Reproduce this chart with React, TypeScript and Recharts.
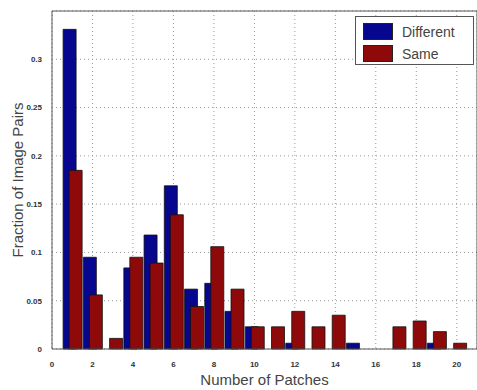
import { BarChart, Bar, XAxis, YAxis, CartesianGrid, ReferenceLine } from 'recharts';

const patches = [1, 2, 3, 4, 5, 6, 7, 8, 9, 10, 11, 12, 13, 14, 15, 16, 17, 18, 19, 20];
const different = [0.331, 0.095, 0, 0.084, 0.118, 0.169, 0.062, 0.068, 0.039, 0.023, 0, 0.006, 0, 0, 0.006, 0, 0, 0, 0.006, 0];
const same = [0.185, 0.056, 0.011, 0.095, 0.089, 0.139, 0.044, 0.106, 0.062, 0.023, 0.023, 0.039, 0.023, 0.035, 0, 0, 0.023, 0.029, 0.018, 0.006];
const xTicks = [0, 2, 4, 6, 8, 10, 12, 14, 16, 18, 20];
const yTicks = [0, 0.05, 0.1, 0.15, 0.2, 0.25, 0.3];

const BLUE = '#06068e';
const RED = '#8e0a0a';
const AXIS = '#555';
const FONT = '"Liberation Sans", Arial, sans-serif';

const data = patches.map((p, i) => ({ n: p, different: different[i], same: same[i] }));

function LegendBox() {
  const items = [
    { label: 'Different', color: BLUE },
    { label: 'Same', color: RED },
  ];
  return (
    <div
      style={{
        position: 'absolute',
        left: 355,
        top: 16,
        width: 119,
        height: 49,
        border: '1px solid #555',
        background: '#fff',
        fontFamily: FONT,
        fontSize: 14,
        color: '#444',
        boxSizing: 'border-box',
        padding: '5px 0 0 7px',
      }}
    >
      {items.map((it) => (
        <div key={it.label} style={{ display: 'flex', alignItems: 'center', height: 19, marginBottom: 3 }}>
          <span style={{ width: 30, height: 17, background: it.color, border: '1px solid #222', boxSizing: 'border-box', marginRight: 9 }} />
          <span>{it.label}</span>
        </div>
      ))}
    </div>
  );
}

export default function App() {
  return (
    <div style={{ position: 'absolute', left: 0, top: 0, width: 477, height: 390, background: '#fff' }}>
      <BarChart width={477} height={390} data={data} margin={{ top: 11, right: 0, bottom: 0, left: 0 }} barSize={13} barGap={-7}>
        <CartesianGrid strokeDasharray="1 3" stroke="#999" />
        <XAxis
          dataKey="n"
          type="number"
          domain={[0, 21]}
          ticks={xTicks}
          interval={0}
          height={41}
          stroke={AXIS}
          tickLine={false}
          tick={{ fontSize: 8, fill: '#333', fontFamily: FONT, fontWeight: 'bold' }}
          tickMargin={6}
          label={{ value: 'Number of Patches', position: 'insideBottom', offset: 5, style: { fontSize: 15, fill: '#444', fontFamily: FONT } }}
        />
        <YAxis
          type="number"
          domain={[0, 0.35]}
          ticks={yTicks}
          width={52}
          stroke={AXIS}
          tickLine={false}
          tick={{ fontSize: 8, fill: '#333', fontFamily: FONT, fontWeight: 'bold' }}
          tickMargin={4}
          label={{ value: 'Fraction of Image Pairs', angle: -90, position: 'insideLeft', offset: 18, style: { textAnchor: 'middle', fontSize: 15, fill: '#444', fontFamily: FONT } }}
        />
        <ReferenceLine y={0.35} stroke={AXIS} />
        <ReferenceLine x={21} stroke={AXIS} />
        <Bar dataKey="different" fill={BLUE} stroke="#111" strokeWidth={0.8} isAnimationActive={false} />
        <Bar dataKey="same" fill={RED} stroke="#111" strokeWidth={0.8} isAnimationActive={false} />
      </BarChart>
      <LegendBox />
    </div>
  );
}
